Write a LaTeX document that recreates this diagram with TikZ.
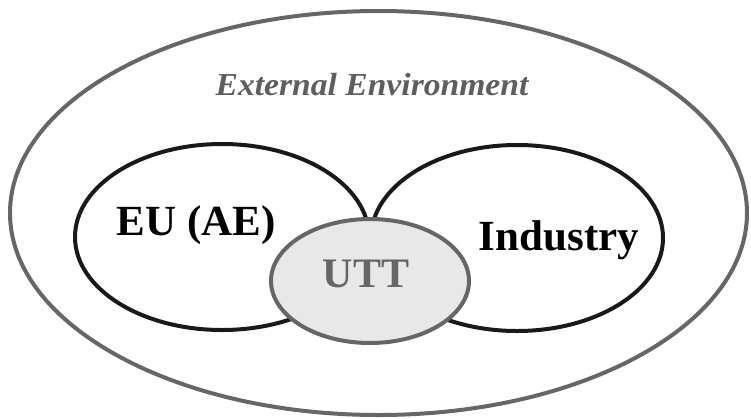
\documentclass[tikz,border=0pt]{standalone}
\usepackage{fontspec}
\setmainfont{Liberation Serif}
\definecolor{outergray}{HTML}{666666}
\definecolor{uttfill}{HTML}{E8E8E8}
\definecolor{txtgray}{HTML}{5E5E5E}
\begin{document}
\begin{tikzpicture}[x=1pt,y=-1pt,
  outerring/.style={draw=outergray,line width=4pt},
  setring/.style={draw=black!90,line width=4pt},
  uttring/.style={draw=outergray,fill=uttfill,line width=4pt},
  bigtxt/.style={font=\fontsize{43}{43}\selectfont\bfseries,anchor=base,inner sep=0pt},
]
\useasboundingbox (0,0) rectangle (751,418);
\draw[outerring] (378.5,213) ellipse [x radius=368.5, y radius=202];
\draw[setring] (222,237) ellipse [x radius=147, y radius=93];
\draw[setring] (517,238) ellipse [x radius=146, y radius=93];
\draw[uttring] (370,281) ellipse [x radius=99, y radius=62];
\node[anchor=base,inner sep=0pt,text=txtgray,font=\fontsize{32}{32}\selectfont\bfseries\itshape,xscale=1.05] (ext) at (372,95) {External Environment};
\node[bigtxt] (eu) at (196,235) {EU (AE)};
\node[bigtxt] (ind) at (559,250) {Industry};
\node[bigtxt,text=outergray,font=\fontsize{42}{42}\selectfont\bfseries] (utt) at (366,287) {UTT};
\end{tikzpicture}
\end{document}
